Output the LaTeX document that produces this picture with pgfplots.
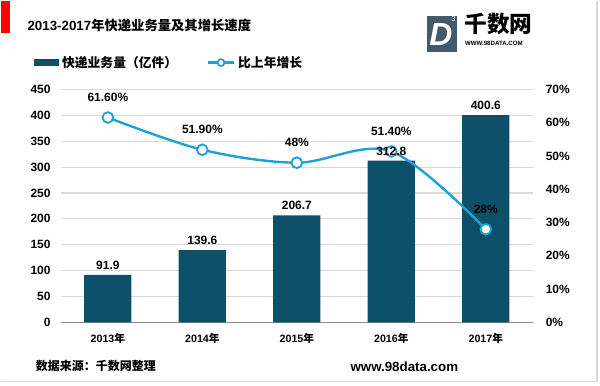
\documentclass[border=0pt]{standalone}
\usepackage{pgfplots}
\pgfplotsset{compat=1.18}
\usepackage{fontspec}
\setmainfont{Liberation Sans}
\newfontfamily\cjk{Noto Sans CJK SC}
\definecolor{barc}{HTML}{0C506A}
\definecolor{linec}{HTML}{1DA1D6}
\definecolor{gridc}{HTML}{D9D9D9}
\definecolor{logoc}{HTML}{44596A}
\pgfplotstableread{
x y l
0 91.9 91.9
1 139.6 139.6
2 206.7 206.7
3 312.8 312.8
4 400.6 400.6
}\bars
\pgfplotstableread{
x y l
0 61.6 61.60\%
1 51.9 51.90\%
2 48.0 48\%
3 51.4 51.40\%
4 28.0 28\%
}\growth
\begin{document}
\begin{tikzpicture}
\begin{axis}[
  width=354.75pt, height=174.75pt, scale only axis,
  xmin=-0.5, xmax=4.5, ymin=0, ymax=450,
  ytick={0,50,...,450},
  xtick={0,1,2,3,4},
  xticklabels={2013{\cjk 年},2014{\cjk 年},2015{\cjk 年},2016{\cjk 年},2017{\cjk 年}},
  axis x line*=bottom, axis y line*=left,
  y axis line style={draw=none},
  x axis line style={draw=black!45, line width=0.8pt, -},
  major tick length=0pt,
  ymajorgrids, grid style={gridc, line width=0.8pt},
  /pgf/number format/assume math mode=true,
  yticklabel style={font=\fontsize{9}{10}\selectfont\bfseries, xshift=-4pt},
  xticklabel style={font=\fontsize{8}{10}\selectfont\bfseries, yshift=-5pt},
  legend style={at={(-0.065,1.116)}, anchor=west, draw=none, fill=none,
    legend columns=2, font=\fontsize{9.6}{11}\selectfont\cjk\bfseries,
    /tikz/every even column/.append style={column sep=20pt}},
]
\coordinate (O) at (rel axis cs:0,0);
\addplot[ybar, fill=barc, draw=none, bar width=0.5,
  legend image code/.code={\fill[barc] (0pt,-2.6pt) rectangle (19pt,2.6pt);}]
  table[x=x, y=y] {\bars};
\addlegendentry{快递业务量（亿件）}
\addlegendimage{legend image code/.code={\draw[linec, line width=1.8pt] (0pt,0pt) -- (20pt,0pt); \draw[linec, line width=1.3pt, fill=white] (10pt,0pt) circle (2.6pt);}}
\addlegendentry{比上年增长}
\end{axis}
\begin{axis}[
  width=354.75pt, height=174.75pt, scale only axis,
  xmin=-0.5, xmax=4.5, ymin=0, ymax=70,
  ytick={0,10,...,70},
  yticklabels={0\%,10\%,20\%,30\%,40\%,50\%,60\%,70\%},
  axis y line*=right, axis x line=none,
  y axis line style={draw=none},
  major tick length=0pt,
  yticklabel style={font=\fontsize{9}{10}\selectfont\bfseries, xshift=6pt},
  clip=false,
]
\addplot[linec, line width=1.8pt, smooth, tension=0.55, mark=*,
  mark options={fill=white, draw=linec, line width=1.4pt}, mark size=4pt,
  nodes near coords, point meta=explicit symbolic,
  every node near coord/.append style={font=\fontsize{9}{10}\selectfont\bfseries, black, anchor=south, yshift=8pt}]
  table[x=x, y=y, meta=l] {\growth};
\end{axis}
\begin{axis}[
  width=354.75pt, height=174.75pt, scale only axis,
  xmin=-0.5, xmax=4.5, ymin=0, ymax=450,
  hide axis, clip=false,
]
\addplot[draw=none, mark=none,
  nodes near coords, point meta=explicit symbolic,
  every node near coord/.append style={font=\fontsize{9}{10}\selectfont\bfseries, black, anchor=south, yshift=0.5pt}]
  table[x=x, y=y, meta=l] {\bars};
\end{axis}
\begin{scope}[shift={(O)}, xshift=-45pt, yshift=-47.25pt]
\path (0pt,0pt) rectangle (450pt,288.75pt);
\draw[gridc, line width=1pt] (447.75pt,3pt) -- (447.75pt,288.75pt);
\draw[gridc, line width=1pt] (0pt,3pt) -- (447.75pt,3pt);
\fill[red] (0pt,288.75pt) rectangle (6.75pt,264.75pt);
\node[anchor=west, inner sep=0] at (20pt,270pt) {\fontsize{10}{12}\selectfont\bfseries 2013-2017{\cjk\bfseries 年快递业务量及其增长速度}};
\fill[logoc] (320.25pt,250.5pt) rectangle (342.75pt,277.5pt);
\node[white, inner sep=0] at (330.5pt,263pt) {\fontsize{24}{24}\selectfont\bfseries\itshape D};
\node[white, inner sep=0] at (340pt,275pt) {\fontsize{5.5}{5.5}\selectfont 3};
\node[anchor=west, inner sep=0] at (348pt,271pt) {\fontsize{17}{17}\selectfont\cjk\bfseries 千数网};
\node[anchor=west, inner sep=0] at (348.5pt,257pt) {\fontsize{4.6}{5}\selectfont\bfseries WWW.98DATA.COM};
\node[anchor=west, inner sep=0] at (26.25pt,14.25pt) {\fontsize{9}{10}\selectfont\cjk\bfseries 数据来源：千数网整理};
\node[anchor=west, inner sep=0] at (262.5pt,14.25pt) {\fontsize{10}{11}\selectfont\bfseries www.98data.com};
\end{scope}
\end{tikzpicture}
\end{document}
